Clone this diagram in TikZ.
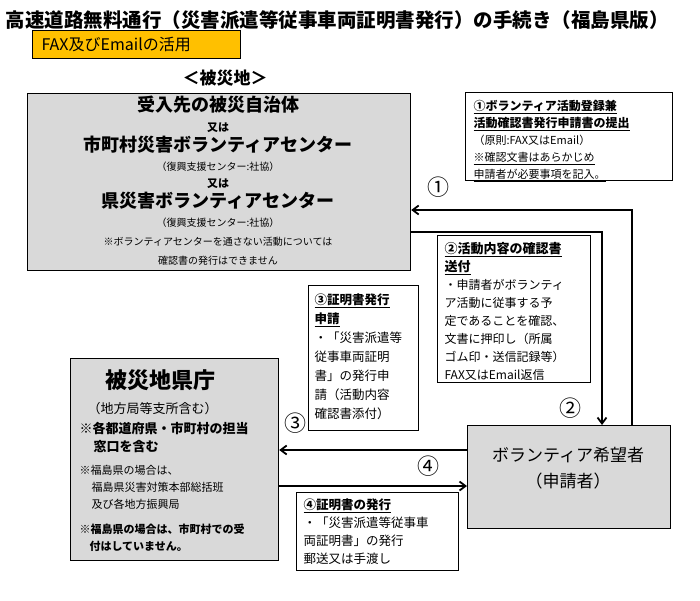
\documentclass[tikz,border=0pt]{standalone}
\usepackage{fontspec}
\setmainfont{Noto Sans CJK JP}
\usetikzlibrary{positioning,arrows.meta}
\newcommand{\fs}[2]{\fontsize{#1}{#2}\selectfont}
\definecolor{boxgray}{RGB}{217,217,217}
\definecolor{tagorange}{RGB}{255,192,0}
\tikzset{
  mainbox/.style={draw, very thick, fill=boxgray, align=center, inner sep=0pt},
  notebox/.style={draw, thin, fill=white, align=left, anchor=north west, inner sep=4pt},
  flow/.style={line width=1.8pt, -{Straight Barb[length=6pt,width=9pt]}}
}
\begin{document}
\begin{tikzpicture}[x=1pt,y=-1pt]
\useasboundingbox (0,0) rectangle (700,600);

% title
\node[anchor=west] (title) at (2,20) {\fs{19.5}{22}\bfseries 高速道路無料通行（災害派遣等従事車両証明書発行）の手続き（福島県版）};
\node[draw, thick, fill=tagorange, anchor=north west, minimum width=208pt, minimum height=28pt, inner sep=0pt] (tag) at (32,30) {};
\node[anchor=west] at (38,44) {\fs{16}{18}FAX及びEmailの活用};
\node (area) at (225,78) {\fs{17}{20}\bfseries ＜被災地＞};

% boxes
\node[mainbox, minimum width=383pt, minimum height=177pt, anchor=north west] (muni) at (27,93) {};
\node[align=center, font=\fs{10}{17}] at (218,181) {%
  \fs{18}{22}\bfseries 受入先の被災自治体\\[3pt]
  \fs{11}{14}\bfseries 又は\\[3pt]
  \fs{18}{22}\bfseries 市町村災害ボランティアセンター\\[2pt]
  \fs{10}{14}（復興支援センター:社協）\\
  \fs{11}{14}\bfseries 又は\\[3pt]
  \fs{18}{22}\bfseries 県災害ボランティアセンター\\[2pt]
  \fs{10}{14}（復興支援センター:社協）\\[2pt]
  \fs{10}{18}※ボランティアセンターを通さない活動については\\[2pt]
  \fs{10}{18}確認書の発行はできません};

\node[mainbox, minimum width=208pt, minimum height=202pt, anchor=north west] (pref) at (70,358) {};
\node[align=left, anchor=north west, font=\fs{11}{17}] at (76,366) {%
  \fs{22}{26}\bfseries\hspace*{26pt}被災地県庁\\[8pt]
  \fs{13}{19}\hspace*{8pt}（地方局等支所含む）\\[3pt]
  \fs{13}{18}\bfseries ※各都道府県・市町村の担当\\[1pt]
  \fs{13}{18}\bfseries\hspace*{14pt}窓口を含む\\[6pt]
  \fs{11}{16}※福島県の場合は、\\
  \fs{11}{16}\hspace*{12pt}福島県災害対策本部総括班\\
  \fs{11}{16}\hspace*{12pt}及び各地方振興局\\[8pt]
  \fs{11}{16}\bfseries ※福島県の場合は、市町村での受\\
  \fs{11}{16}\bfseries\hspace*{10pt}付はしていません。};

\node[mainbox, minimum width=203pt, minimum height=103pt, anchor=north west] (vol) at (467,425) {};
\node[align=center, font=\fs{17}{26}] at (568,468) {ボランティア希望者\\（申請者）};

% notes
\node[notebox, minimum width=207pt, minimum height=88pt] (note1) at (465,92) {};
\node[anchor=north west, align=left, font=\fs{11}{17}] at (470,97) {%
  \fs{12}{16}\bfseries\underline{①ボランティア活動登録兼}\\
  \fs{12}{16}\bfseries\underline{活動確認書発行申請書の提出}\\
  （原則:FAX又はEmail）\\
  \underline{※確認文書はあらかじめ}\\
  \underline{申請者が必要事項を記入。}};

\node[notebox, minimum width=153pt, minimum height=147pt] (note2) at (437,235) {};
\node[anchor=north west, align=left, font=\fs{12}{18}] at (441,239) {%
  \fs{13}{17}\bfseries\underline{②活動内容の確認書}\\
  \fs{13}{17}\bfseries\underline{送付}\\
  ・申請者がボランティ\\
  ア活動に従事する予\\
  定であることを確認、\\
  文書に押印し（所属\\
  ゴム印・送信記録等）\\
  FAX又はEmail返信};

\node[notebox, minimum width=110pt, minimum height=145pt] (note3) at (308,285) {};
\node[anchor=north west, align=left, font=\fs{12.5}{19}] at (311,290) {%
  \bfseries\underline{③証明書発行}\\
  \bfseries\underline{申請}\\
  ・「災害派遣等\\
  従事車両証明\\
  書」の発行申\\
  請（活動内容\\
  確認書添付）};

\node[notebox, minimum width=162pt, minimum height=78pt] (note4) at (296,492) {};
\node[anchor=north west, align=left, font=\fs{12.5}{18}] at (300,495) {%
  \bfseries\underline{④証明書の発行}\\
  ・「災害派遣等従事車\\
  両証明書」の発行\\
  郵送又は手渡し};

% flows
\coordinate (c1) at (632,210);
\coordinate (c2) at (602,232);
\draw[flow] (vol.north -| c1) |- (c1 -| muni.east);
\draw[flow] (muni.east |- c2) -| (vol.north -| c2);
\draw[flow] (vol.west |- 0,450) -- (pref.east |- 0,450);
\draw[flow] (pref.east |- 0,486) -- (vol.west |- 0,486);

\node (n1) at (438,187) {\fs{22}{24}①};
\node (n2) at (570,408) {\fs{22}{24}②};
\node (n3) at (295,423) {\fs{22}{24}③};
\node (n4) at (428,466) {\fs{22}{24}④};
\end{tikzpicture}
\end{document}
